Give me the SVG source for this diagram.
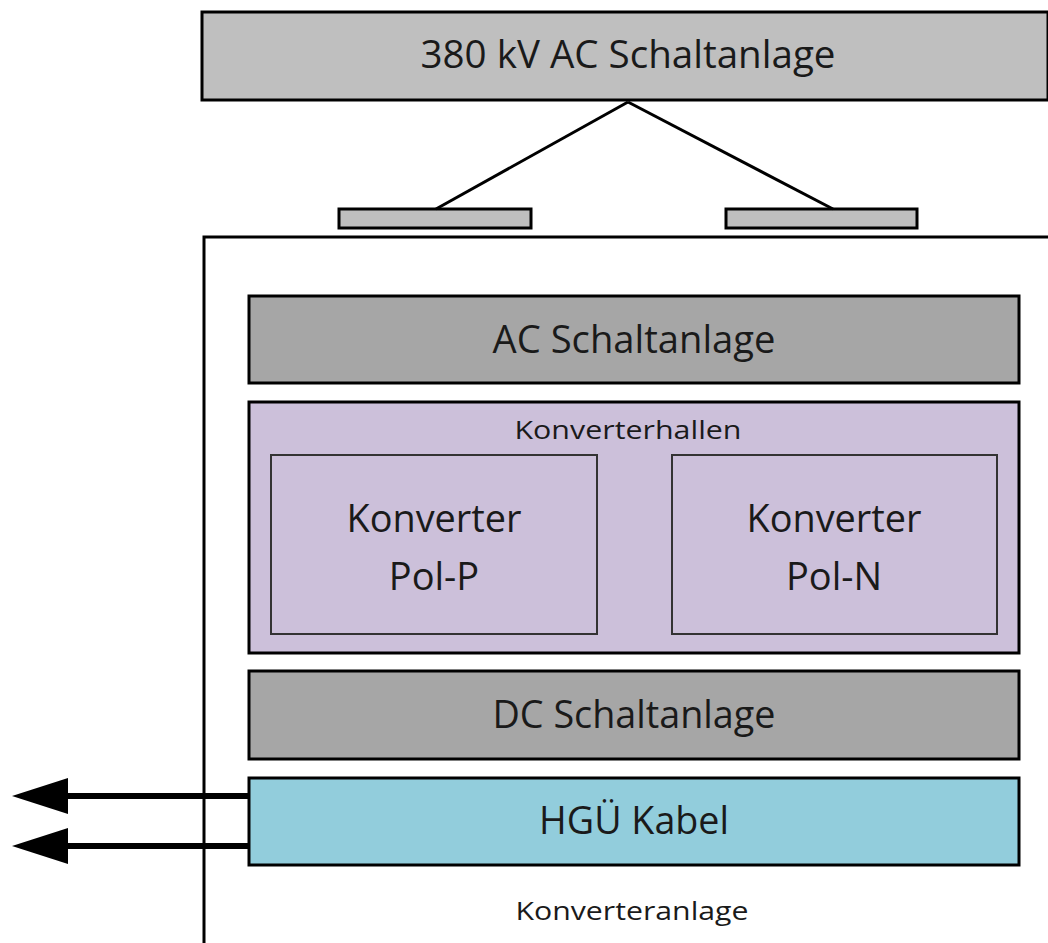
<svg xmlns="http://www.w3.org/2000/svg" width="1048" height="943" viewBox="0 0 1048 943">
<defs>
<style>
.box{stroke:#000;stroke-width:3}
.grey{fill:#a6a6a6}
.lgrey{fill:#bfbfbf}
.t{font-family:"Open Sans","Liberation Sans",sans-serif;fill:#1a1a1a;text-anchor:middle}
.big{font-size:38px}
.sm{font-size:25px}
.conn{stroke:#000;fill:none}
</style>
</defs>
<rect width="1048" height="943" fill="#fff"/>
<g id="outer">
<path d="M204,943 V237 H1050" class="conn" stroke-width="3"/>
<text x="632" y="920" class="t sm" textLength="233" lengthAdjust="spacingAndGlyphs">Konverteranlage</text>
</g>
<g id="ac380">
<rect x="202" y="12" width="846" height="88" class="box lgrey"/>
<text x="628" y="68" class="t big" textLength="415" lengthAdjust="spacingAndGlyphs">380 kV AC Schaltanlage</text>
</g>
<g id="bar1"><rect x="339" y="209" width="192" height="19" class="box lgrey"/></g>
<g id="bar2"><rect x="726" y="209" width="191" height="19" class="box lgrey"/></g>
<g id="acs">
<rect x="249" y="296" width="770" height="87" class="box grey"/>
<text x="634" y="353" class="t big" textLength="283" lengthAdjust="spacingAndGlyphs">AC Schaltanlage</text>
</g>
<g id="halls">
<rect x="249" y="402" width="770" height="251" class="box" fill="#ccc0da"/>
<text x="628" y="439" class="t sm" textLength="227" lengthAdjust="spacingAndGlyphs">Konverterhallen</text>
</g>
<g id="polp">
<rect x="271" y="455" width="326" height="179" fill="#ccc0da" stroke="#333" stroke-width="2"/>
<text x="434" y="532" class="t big" textLength="175" lengthAdjust="spacingAndGlyphs">Konverter</text>
<text x="434" y="590" class="t big">Pol-P</text>
</g>
<g id="poln">
<rect x="672" y="455" width="325" height="179" fill="#ccc0da" stroke="#333" stroke-width="2"/>
<text x="834" y="532" class="t big" textLength="175" lengthAdjust="spacingAndGlyphs">Konverter</text>
<text x="834" y="590" class="t big">Pol-N</text>
</g>
<g id="dcs">
<rect x="249" y="671" width="770" height="88" class="box grey"/>
<text x="634" y="728" class="t big" textLength="283" lengthAdjust="spacingAndGlyphs">DC Schaltanlage</text>
</g>
<g id="hgu">
<rect x="249" y="778" width="770" height="87" class="box" fill="#92cddc"/>
<text x="634" y="834" class="t big" textLength="190" lengthAdjust="spacingAndGlyphs">HGÜ Kabel</text>
</g>
<g id="connectors">
<path d="M628,102 L436,209" class="conn" stroke-width="3"/>
<path d="M628,102 L833,209" class="conn" stroke-width="3"/>
<path d="M249,796 H68" class="conn" stroke-width="6"/>
<path d="M249,846 H68" class="conn" stroke-width="6"/>
<polygon points="12,796 68,778 68,814" fill="#000"/>
<polygon points="12,846 68,828 68,864" fill="#000"/>
</g>
</svg>
